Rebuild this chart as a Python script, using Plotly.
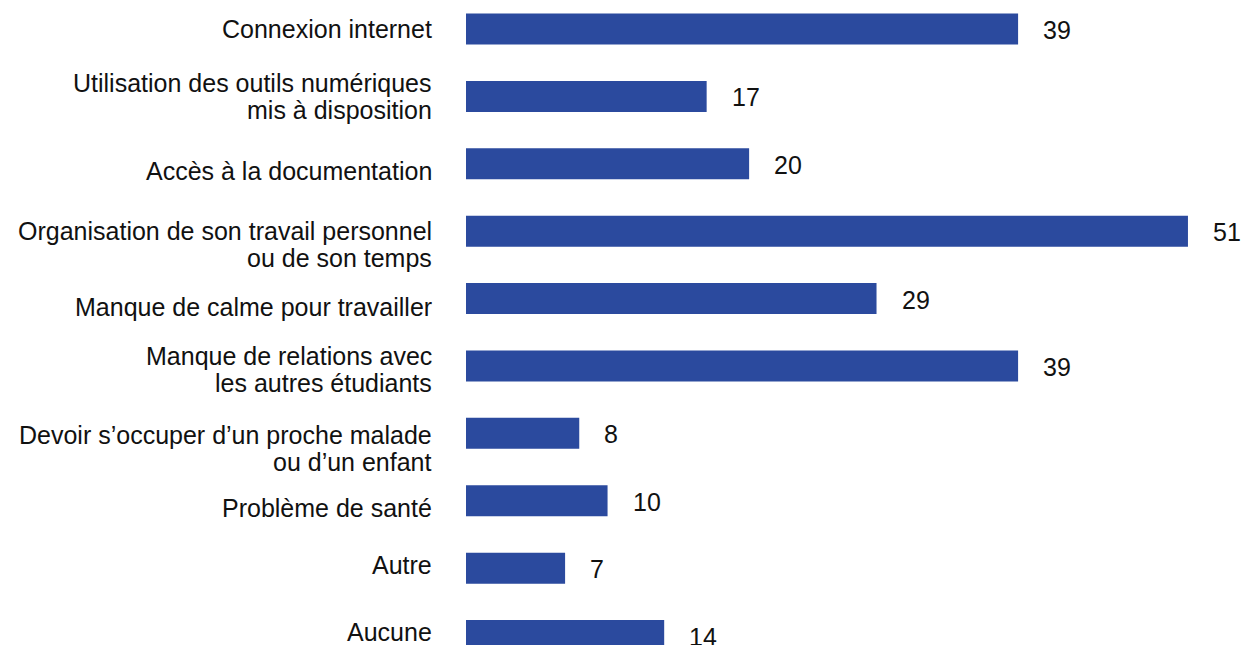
import plotly.graph_objects as go

categories = [
    "Connexion internet",
    "Utilisation des outils numériques<br>mis à disposition",
    "Accès à la documentation",
    "Organisation de son travail personnel<br>ou de son temps",
    "Manque de calme pour travailler",
    "Manque de relations avec<br>les autres étudiants",
    "Devoir s’occuper d’un proche malade<br>ou d’un enfant",
    "Problème de santé",
    "Autre",
    "Aucune",
]
values = [39, 17, 20, 51, 29, 39, 8, 10, 7, 14]

# layout only: vertical nudge (px, downward) of each category label, as in the reference
label_nudge = [0, 0, 7, 13, 8, 4, 15, 7, -3, -4]

BAR_COLOR = "#2b4a9e"
FONT = "Liberation Sans, Arial, sans-serif"
FSIZE = 25
LINE_GAP = 27

fig = go.Figure()
fig.add_trace(go.Bar(
    x=values, y=categories, orientation="h",
    marker=dict(color=BAR_COLOR, line=dict(width=0)),
    width=0.46,
    hoverinfo="skip",
))

# value labels
for c, v in zip(categories, values):
    fig.add_annotation(x=v, y=c, text=str(v), showarrow=False,
                       xanchor="left", yanchor="middle", xshift=23, yshift=-1,
                       font=dict(family=FONT, size=FSIZE, color="#111111"))

# category labels (tight line spacing as in the reference)
for c, nd in zip(categories, label_nudge):
    lines = c.split("<br>")
    n = len(lines)
    for k, line in enumerate(lines):
        shift = ((n - 1) / 2 - k) * LINE_GAP - nd
        fig.add_annotation(xref="paper", x=0, y=c, yref="y", text=line,
                           showarrow=False, xanchor="right", yanchor="middle",
                           xshift=-32, yshift=shift,
                           font=dict(family=FONT, size=FSIZE, color="#111111"))

fig.update_layout(
    width=1246, height=645,
    margin=dict(l=466, r=0, t=0, b=0),
    paper_bgcolor="white", plot_bgcolor="white",
    showlegend=False,
    font=dict(family=FONT, size=FSIZE, color="#111111"),
    xaxis=dict(range=[0, 55.1], visible=False, showgrid=False, zeroline=False),
    yaxis=dict(type="category", range=[9.14, -0.43], showgrid=False, zeroline=False,
               showline=False, ticks="", showticklabels=False),
)

fig.write_html("out.html")
